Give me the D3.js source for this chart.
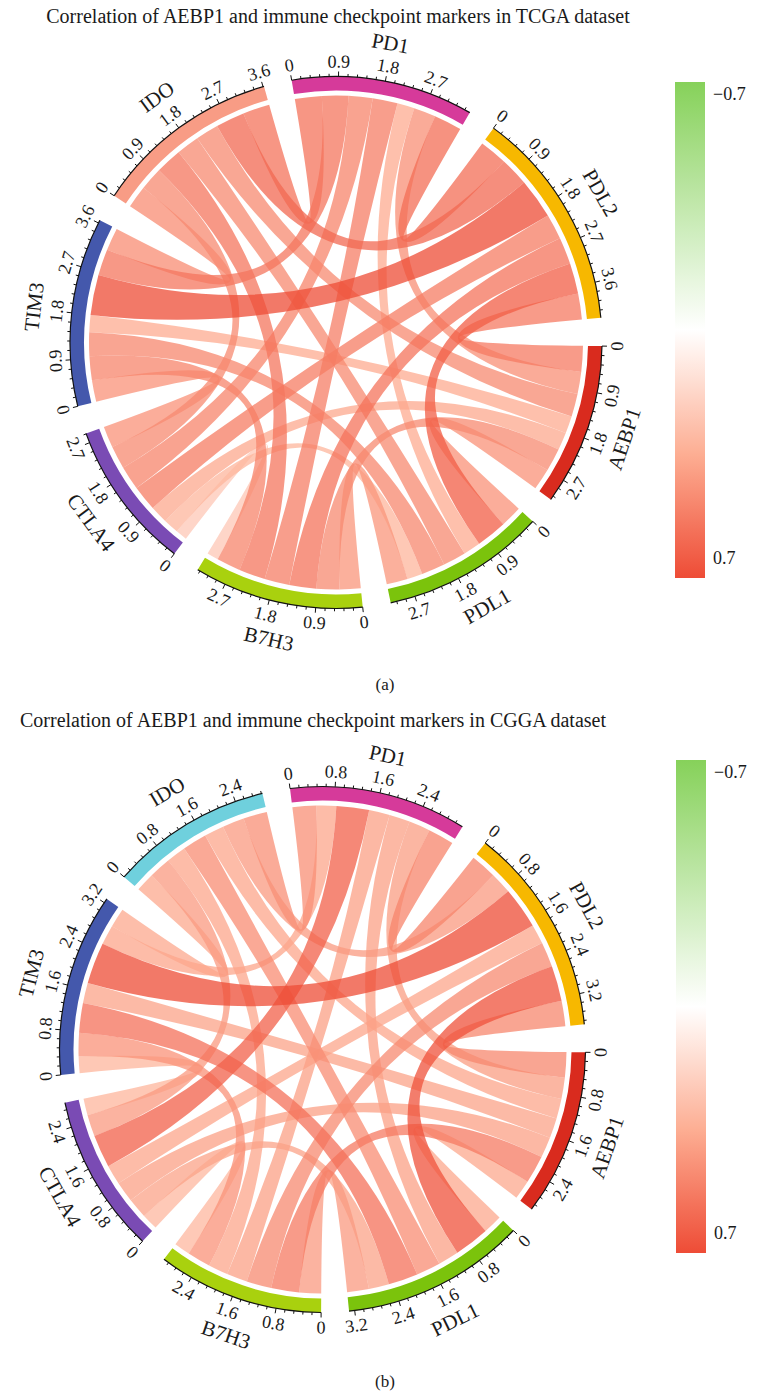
<!DOCTYPE html>
<html>
<head>
<meta charset="utf-8">
<script src="https://cdn.jsdelivr.net/npm/d3@7"></script>
<style>
  body { margin: 0; background: #fff; }
  svg { display: block; }
  text { font-family: "Liberation Serif", "Times New Roman", Times, serif; fill: #1a1a1a; }
</style>
</head>
<body>
<svg id="chart" width="764" height="1393"></svg>
<script>
// Sectors, clockwise from the top
const markers = ["PD1", "PDL2", "AEBP1", "PDL1", "B7H3", "CTLA4", "TIM3", "IDO"];

// Pairwise correlations (symmetric), same order as markers
const tcgaCorr = [
  [0.00, 0.58, 0.46, 0.36, 0.52, 0.50, 0.55, 0.56],
  [0.58, 0.00, 0.54, 0.64, 0.56, 0.53, 0.84, 0.60],
  [0.46, 0.54, 0.00, 0.45, 0.48, 0.37, 0.36, 0.48],
  [0.36, 0.64, 0.45, 0.00, 0.44, 0.32, 0.49, 0.48],
  [0.52, 0.56, 0.48, 0.44, 0.00, 0.24, 0.50, 0.55],
  [0.50, 0.53, 0.37, 0.32, 0.24, 0.00, 0.45, 0.48],
  [0.55, 0.84, 0.36, 0.49, 0.50, 0.45, 0.00, 0.47],
  [0.56, 0.60, 0.48, 0.48, 0.55, 0.48, 0.47, 0.00]
];
const cggaCorr = [
  [0.00, 0.50, 0.41, 0.40, 0.40, 0.63, 0.38, 0.46],
  [0.50, 0.00, 0.49, 0.68, 0.48, 0.38, 0.80, 0.42],
  [0.41, 0.49, 0.00, 0.37, 0.54, 0.40, 0.39, 0.38],
  [0.40, 0.68, 0.37, 0.00, 0.42, 0.39, 0.57, 0.47],
  [0.40, 0.48, 0.54, 0.42, 0.00, 0.31, 0.45, 0.38],
  [0.63, 0.38, 0.40, 0.39, 0.31, 0.00, 0.32, 0.42],
  [0.38, 0.80, 0.39, 0.57, 0.45, 0.32, 0.00, 0.37],
  [0.46, 0.42, 0.38, 0.47, 0.38, 0.42, 0.37, 0.00]
];

// Sector track colours
const tcgaTrackColors = ["#D63A9A", "#F7B800", "#D92B1E", "#7BC30C", "#A9D10E", "#7A4BB4", "#4458AC", "#F89C85"];
const cggaTrackColors = ["#D63A9A", "#F7B800", "#D92B1E", "#7BC30C", "#A9D10E", "#7A4BB4", "#4458AC", "#6FD0DD"];

// Axis tick spacing per panel
const tcgaTickStep = 0.9;
const cggaTickStep = 0.8;

// Colour legend: negative = green, zero = white, positive = red
const legendDomain = [-0.7, -0.35, 0, 0.35, 0.7];
const legendColors = ["#86D15A", "#C2E8AC", "#FFFFFF", "#FDAE93", "#EE4C36"];
const legendLabels = ["\u22120.7", "0.7"];

const color = d3.scaleLinear()
  .domain(legendDomain)
  .range(legendColors)
  .clamp(true);

const svg = d3.select("#chart");
const DEG = Math.PI / 180;
const GAP = 6.1;

const panels = [
  {
    id: "tcga",
    title: "Correlation of AEBP1 and immune checkpoint markers in TCGA dataset",
    tag: "(a)",
    corr: tcgaCorr, trackColors: tcgaTrackColors, step: tcgaTickStep,
    cx: 336, cy: 342.5, rAxis: 266, startDeg: -9.6,
    titleX: 338, titleY: 23, tagX: 385, tagY: 690,
    legend: { x: 675, y: 82, w: 30, h: 496 }
  },
  {
    id: "cgga",
    title: "Correlation of AEBP1 and immune checkpoint markers in CGGA dataset",
    tag: "(b)",
    corr: cggaCorr, trackColors: cggaTrackColors, step: cggaTickStep,
    cx: 322.5, cy: 1049.5, rAxis: 263, startDeg: -7.1,
    titleX: 313, titleY: 727, tagX: 385, tagY: 1387,
    legend: { x: 676, y: 760, w: 30, h: 493 }
  }
];

function polar(r, a) { return [r * Math.sin(a), -r * Math.cos(a)]; }

function drawPanel(p) {
  const n = markers.length;
  const sums = p.corr.map(row => d3.sum(row, v => Math.abs(v)));
  const total = d3.sum(sums);
  const degPerUnit = (360 - n * GAP) / total;

  // sector extents
  let cursor = p.startDeg;
  const groups = markers.map((name, i) => {
    const s = cursor, e = cursor + sums[i] * degPerUnit;
    cursor = e + GAP;
    const scale = d3.scaleLinear().domain([0, sums[i]]).range([s * DEG, e * DEG]);
    return { i, name, value: sums[i], startAngle: s * DEG, endAngle: e * DEG, scale };
  });

  // link slots inside each sector: neighbours ordered so links do not twist
  const slot = markers.map(() => []);
  groups.forEach((gr, i) => {
    let pos = 0;
    for (let step = 1; step < n; step++) {
      const j = (i - step + n) % n;
      const v = Math.abs(p.corr[i][j]);
      slot[i][j] = [pos, pos + v];
      pos += v;
    }
  });

  const links = [];
  for (let i = 0; i < n; i++) {
    for (let j = i + 1; j < n; j++) {
      links.push({
        value: p.corr[i][j],
        source: { startAngle: groups[i].scale(slot[i][j][0]), endAngle: groups[i].scale(slot[i][j][1]) },
        target: { startAngle: groups[j].scale(slot[j][i][0]), endAngle: groups[j].scale(slot[j][i][1]) }
      });
    }
  }

  const rTrackOuter = p.rAxis;
  const rTrackInner = p.rAxis - 14;
  const rChord = p.rAxis - 19;

  const g = svg.append("g").attr("transform", `translate(${p.cx},${p.cy})`);

  // links
  const ribbon = d3.ribbon().radius(rChord);
  g.append("g").attr("class", "links")
    .selectAll("path")
    .data(links.slice().sort((a, b) => Math.abs(a.value) - Math.abs(b.value)))
    .join("path")
    .attr("d", ribbon)
    .attr("fill", d => color(d.value))
    .attr("fill-opacity", 0.75);

  // tracks
  const arc = d3.arc().innerRadius(rTrackInner).outerRadius(rTrackOuter);
  g.append("g").attr("class", "tracks")
    .selectAll("path")
    .data(groups)
    .join("path")
    .attr("d", arc)
    .attr("fill", d => p.trackColors[d.i]);

  // axes
  const axisArc = d3.arc().innerRadius(rTrackOuter).outerRadius(rTrackOuter);
  const fmt = v => (Math.abs(v) < 1e-9 ? "0" : d3.format(".1f")(v));
  const minor = p.step / 5;

  groups.forEach(gr => {
    const ga = g.append("g").attr("class", "axis");
    ga.append("path")
      .attr("d", axisArc(gr))
      .attr("fill", "none")
      .attr("stroke", "#111")
      .attr("stroke-width", 1.2);

    const count = Math.floor(gr.value / minor + 1e-6);
    const ticks = d3.range(0, count + 1).map(k => ({ v: k * minor, major: k % 5 === 0 }));
    ga.selectAll("line")
      .data(ticks)
      .join("line")
      .each(function (d) {
        const a = gr.scale(d.v);
        const [x1, y1] = polar(rTrackOuter, a);
        const [x2, y2] = polar(rTrackOuter + (d.major ? 5 : 2.8), a);
        d3.select(this).attr("x1", x1).attr("y1", y1).attr("x2", x2).attr("y2", y2);
      })
      .attr("stroke", "#111")
      .attr("stroke-width", 1);

    const midDeg = ((gr.startAngle + gr.endAngle) / 2 / DEG + 360) % 360;
    const flip = midDeg > 90 && midDeg < 270;
    const rot = a => a / DEG - (flip ? 180 : 0);

    ga.selectAll("text.tick")
      .data(ticks.filter(d => d.major))
      .join("text")
      .attr("class", "tick")
      .attr("transform", d => {
        const a = gr.scale(d.v);
        const [x, y] = polar(rTrackOuter + 15, a);
        return `translate(${x},${y}) rotate(${rot(a)})`;
      })
      .attr("text-anchor", "middle")
      .attr("dominant-baseline", "central")
      .attr("font-size", 18)
      .text(d => fmt(d.v));

    const am = (gr.startAngle + gr.endAngle) / 2;
    const [lx, ly] = polar(rTrackOuter + 38, am);
    ga.append("text")
      .attr("class", "name")
      .attr("transform", `translate(${lx},${ly}) rotate(${rot(am)})`)
      .attr("text-anchor", "middle")
      .attr("dominant-baseline", "central")
      .attr("font-size", 21)
      .text(gr.name);
  });

  // title and panel tag
  svg.append("text")
    .attr("x", p.titleX).attr("y", p.titleY)
    .attr("text-anchor", "middle")
    .attr("font-size", 20)
    .text(p.title);
  svg.append("text")
    .attr("x", p.tagX).attr("y", p.tagY)
    .attr("text-anchor", "middle")
    .attr("font-size", 17)
    .text(p.tag);

  // colour legend
  const L = p.legend;
  const gradId = "grad-" + p.id;
  const grad = svg.append("defs").append("linearGradient")
    .attr("id", gradId).attr("x1", 0).attr("y1", 0).attr("x2", 0).attr("y2", 1);
  const lo = legendDomain[0], hi = legendDomain[legendDomain.length - 1];
  const stopScale = d3.scaleLinear().domain([0, 1]).range([lo, hi]);
  grad.selectAll("stop")
    .data(d3.range(0, 1.0001, 0.05))
    .join("stop")
    .attr("offset", d => d)
    .attr("stop-color", d => color(stopScale(d)));
  svg.append("rect")
    .attr("x", L.x).attr("y", L.y).attr("width", L.w).attr("height", L.h)
    .attr("fill", `url(#${gradId})`);
  const ly = d3.scaleLinear().domain([lo, hi]).range([L.y + 12, L.y + L.h - 20]);
  svg.selectAll(null)
    .data([lo, hi])
    .join("text")
    .attr("x", L.x + L.w + 8)
    .attr("y", d => ly(d))
    .attr("dominant-baseline", "central")
    .attr("font-size", 18)
    .text((d, i) => legendLabels[i]);
}

panels.forEach(drawPanel);
</script>
</body>
</html>
